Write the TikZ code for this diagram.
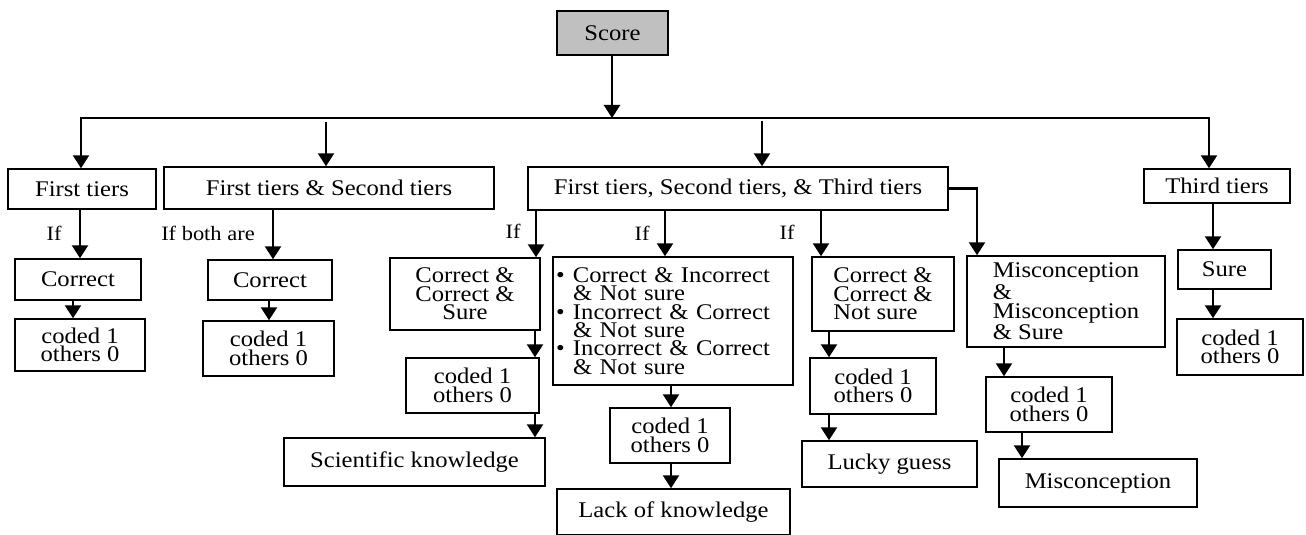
\documentclass[tikz,border=0pt]{standalone}
\usepackage{fontspec}
\setmainfont[FakeStretch=1.1]{Liberation Serif}
\usetikzlibrary{arrows.meta}
\definecolor{scoregray}{RGB}{192,192,192}
\newcommand\tfont{\fontsize{11.2}{9.2}\selectfont}
\newcommand\lfont{\fontsize{10.2}{12}\selectfont}
\newcommand\mybox[7][]{\node[box,minimum width={(#5-#3)*0.5pt},minimum height={(#6-#4)*0.5pt},#1] (#2) at ({(#3+#5)/2},{(#4+#6)/2}) {#7};}
\begin{document}
\begin{tikzpicture}[x=0.5pt,y=-0.5pt,
  box/.style={draw,line width=0.75pt,inner sep=1pt,font=\tfont,align=center},
  arr/.style={line width=1.25pt,-{Triangle[length=6.5pt,width=8pt]}},
  lbl/.style={font=\lfont,inner sep=0pt}]
\useasboundingbox (0,0) rectangle (1306,535);
% boxes
\mybox[fill=scoregray]{score}{557}{11}{668}{55}{Score}
\mybox{ft}{8}{169}{156}{209}{First tiers}
\mybox{fst}{164}{167}{494}{209}{First tiers \& Second tiers}
\mybox{main}{528}{167}{948}{210}{First tiers, Second tiers, \& Third tiers}
\mybox{tt}{1144}{169}{1290}{203}{Third tiers}
\mybox{c1}{15}{259}{141}{300}{Correct}
\mybox{c2}{208}{260}{332}{300}{Correct}
\mybox{k1}{15}{319}{145}{371}{coded 1\\others 0}
\mybox{k2}{203}{321}{334}{376}{coded 1\\others 0}
\mybox{ccs}{390}{258}{540}{330}{Correct \&\\Correct \&\\Sure}
\mybox{k3}{406}{358}{539}{413}{coded 1\\others 0}
\mybox{sk}{284}{438}{545}{486}{Scientific knowledge}
\mybox[align=left,text width=117pt]{bul}{553}{257}{793}{385}{\makebox[8.5pt][l]{\textbullet}Correct \& Incorrect\\\hspace*{8.5pt}\& Not sure\\\makebox[8.5pt][l]{\textbullet}Incorrect \& Correct\\\hspace*{8.5pt}\& Not sure\\\makebox[8.5pt][l]{\textbullet}Incorrect \& Correct\\\hspace*{8.5pt}\& Not sure}
\mybox{k4}{610}{408}{730}{463}{coded 1\\others 0}
\mybox{lok}{557}{489}{790}{535}{Lack of knowledge}
\mybox[align=left]{ccns}{812}{257}{954}{331}{Correct \&\\Correct \&\\Not sure}
\mybox{k5}{810}{358}{936}{414}{coded 1\\others 0}
\mybox{lucky}{802}{441}{977}{487}{Lucky guess}
\mybox[align=left]{mis}{967}{256}{1165}{347}{Misconception\\\&\\Misconception\\\& Sure}
\mybox{k6}{986}{377}{1112}{432}{coded 1\\others 0}
\mybox{misc}{999}{459}{1197}{507}{Misconception}
\mybox{sure}{1178}{250}{1271}{289}{Sure}
\mybox{k7}{1177}{319}{1303}{375}{coded 1\\others 0}
% labels
\node[lbl] (if1) at (54,233) {If};
\node[lbl] (if2) at (208,233) {If both are};
\node[lbl] (if3) at (513,231) {If};
\node[lbl] (if4) at (642,233) {If};
\node[lbl] (if5) at (787,232) {If};
% connectors
\coordinate (hl) at (612,118);
\coordinate (fst0) at (326,122);
\coordinate (main0) at (762,121);
\draw[arr] (score.south -| hl) -- (hl);
\draw[arr] (hl) -| ([xshift=-0.5pt]ft.north);
\draw[arr] (hl) -| ([xshift=-4pt]tt.north);
\draw[arr] (fst0) -- (fst.north -| fst0);
\draw[arr] (main0) -- (main.north -| main0);
\draw[arr] (ft.south -| 80,0) -- (c1.north -| 80,0);
\draw[arr] (fst.south -| 273,0) -- (c2.north -| 273,0);
\draw[arr] (c1.south -| 73,0) -- (k1.north -| 73,0);
\draw[arr] (c2.south -| 269,0) -- (k2.north -| 269,0);
\draw[arr] (main.south -| 536,0) -- (ccs.north -| 536,0);
\draw[arr] (main.south -| 665,0) -- (bul.north -| 665,0);
\draw[arr] (main.south -| 821,0) -- (ccns.north -| 821,0);
\draw[arr] (main.east) -| (mis.north -| 977,0);
\draw[arr] (tt.south -| 1213,0) -- (sure.north -| 1213,0);
\draw[arr] (sure.south -| 1213,0) -- (k7.north -| 1213,0);
\draw[arr] (ccs.south -| 535,0) -- (k3.north -| 535,0);
\draw[arr] (k3.south -| 535,0) -- (sk.north -| 535,0);
\draw[arr] (bul.south -| 671,0) -- (k4.north -| 671,0);
\draw[arr] (k4.south -| 671,0) -- (lok.north -| 671,0);
\draw[arr] (ccns.south -| 829,0) -- (k5.north -| 829,0);
\draw[arr] (k5.south -| 829,0) -- (lucky.north -| 829,0);
\draw[arr] (mis.south -| 1004,0) -- (k6.north -| 1004,0);
\draw[arr] (k6.south -| 1022,0) -- (misc.north -| 1022,0);
\end{tikzpicture}
\end{document}
